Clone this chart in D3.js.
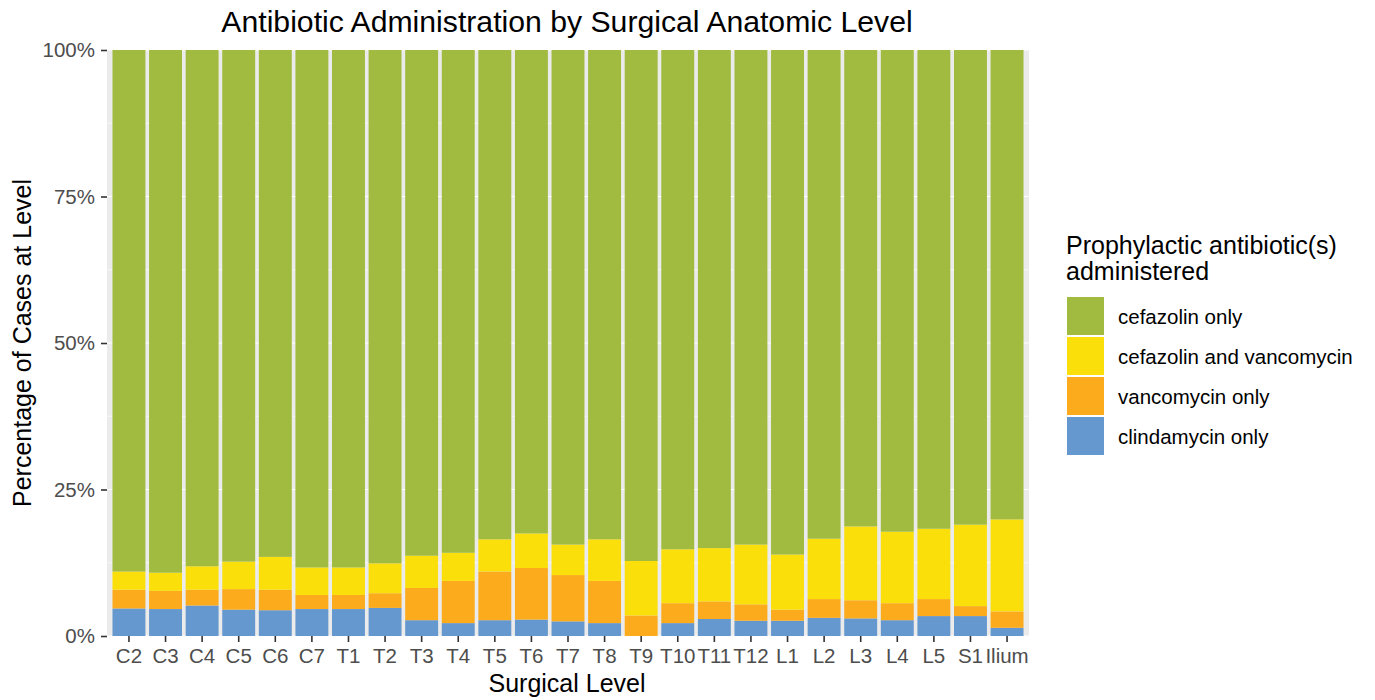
<!DOCTYPE html>
<html>
<head>
<meta charset="utf-8">
<script src="https://cdn.jsdelivr.net/npm/d3@7"></script>
<style>
  body { margin: 0; background: #fff; }
  svg { font-family: "Liberation Sans", Arial, sans-serif; }
</style>
</head>
<body>
<svg id="chart" width="1375" height="700"></svg>
<script>
// surgical levels along the x axis
const levels = ["C2","C3","C4","C5","C6","C7","T1","T2","T3","T4","T5","T6","T7","T8","T9",
  "T10","T11","T12","L1","L2","L3","L4","L5","S1","Ilium"];

// percent of cases at each level, per antibiotic group
const clindamycin = [4.7,4.6,5.2,4.5,4.4,4.6,4.6,4.8,2.7,2.2,2.7,2.8,2.5,2.2,0.0,2.2,2.9,2.6,2.6,3.1,3.0,2.7,3.4,3.4,1.4];
const vancomycin  = [3.2,3.1,2.7,3.5,3.5,2.4,2.4,2.5,5.5,7.2,8.3,8.8,7.9,7.2,3.5,3.4,3.0,2.8,1.9,3.2,3.1,2.9,2.9,1.7,2.8];
const cefVanc     = [3.1,3.1,4.0,4.7,5.6,4.7,4.7,5.1,5.5,4.8,5.5,5.9,5.2,7.1,9.3,9.2,9.1,10.2,9.4,10.3,12.6,12.2,12.0,13.9,15.7];
const groups = ["clindamycin only","vancomycin only","cefazolin and vancomycin","cefazolin only"];
const legendOrder = ["cefazolin only","cefazolin and vancomycin","vancomycin only","clindamycin only"];
const colors = {
  "cefazolin only": "#a0bb40",
  "cefazolin and vancomycin": "#fbdf0b",
  "vancomycin only": "#fbab1c",
  "clindamycin only": "#6598cf"
};
const yTicks = [0, 25, 50, 75, 100];

const rows = levels.map((lv, i) => ({
  level: lv,
  "clindamycin only": clindamycin[i],
  "vancomycin only": vancomycin[i],
  "cefazolin and vancomycin": cefVanc[i],
  "cefazolin only": 100 - clindamycin[i] - vancomycin[i] - cefVanc[i]
}));

const svg = d3.select("#chart");
const panel = {left: 107, right: 1029, top: 50, bottom: 636};

const x = d3.scaleBand().domain(levels).range([panel.left, panel.right])
  .paddingInner(0.1).paddingOuter(0.15);
const y = d3.scaleLinear().domain([0, 100]).range([panel.bottom, panel.top]);

// panel background + grid
svg.append("rect")
  .attr("x", panel.left).attr("y", panel.top)
  .attr("width", panel.right - panel.left).attr("height", panel.bottom - panel.top)
  .attr("fill", "#ebebeb");
svg.append("g").selectAll("line").data([12.5, 37.5, 62.5, 87.5]).join("line")
  .attr("x1", panel.left).attr("x2", panel.right)
  .attr("y1", d => y(d)).attr("y2", d => y(d))
  .attr("stroke", "#fff").attr("stroke-width", 0.6);
svg.append("g").selectAll("line").data(yTicks).join("line")
  .attr("x1", panel.left).attr("x2", panel.right)
  .attr("y1", d => y(d)).attr("y2", d => y(d))
  .attr("stroke", "#fff").attr("stroke-width", 1.2);

// stacked bars
const stack = d3.stack().keys(groups)(rows);
svg.append("g").selectAll("g").data(stack).join("g")
  .attr("fill", d => colors[d.key])
  .selectAll("rect").data(d => d).join("rect")
  .attr("x", d => x(d.data.level))
  .attr("width", x.bandwidth())
  .attr("y", d => y(d[1]))
  .attr("height", d => y(d[0]) - y(d[1]));

// axes
const yAxis = svg.append("g")
  .attr("transform", `translate(${panel.left},0)`)
  .call(d3.axisLeft(y).tickValues(yTicks).tickFormat(d => d + "%").tickSize(6).tickPadding(6));
const xAxis = svg.append("g")
  .attr("transform", `translate(0,${panel.bottom})`)
  .call(d3.axisBottom(x).tickSize(6).tickPadding(6));
[yAxis, xAxis].forEach(a => {
  a.select(".domain").remove();
  a.selectAll(".tick line").attr("stroke", "#333").attr("stroke-width", 1.6);
  a.selectAll(".tick text").attr("fill", "#4d4d4d").style("font-size", "20.5px")
    .style("font-family", "'Liberation Sans', Arial, sans-serif");
});

// titles
svg.append("text").attr("x", 567).attr("y", 32).attr("text-anchor", "middle")
  .style("font-size", "30.2px").attr("fill", "#000")
  .text("Antibiotic Administration by Surgical Anatomic Level");
svg.append("text").attr("x", 567).attr("y", 692).attr("text-anchor", "middle")
  .style("font-size", "25px").attr("fill", "#000").text("Surgical Level");
svg.append("text").attr("transform", `translate(31,${(panel.top + panel.bottom) / 2}) rotate(-90)`)
  .attr("text-anchor", "middle").style("font-size", "25px").attr("fill", "#000")
  .text("Percentage of Cases at Level");

// legend
const legend = svg.append("g").attr("transform", "translate(1066,0)");
legend.append("text").attr("x", 0).attr("y", 254).style("font-size", "25px")
  .text("Prophylactic antibiotic(s)");
legend.append("text").attr("x", 0).attr("y", 280).style("font-size", "25px")
  .text("administered");
const items = legend.selectAll("g.item").data(legendOrder).join("g")
  .attr("class", "item")
  .attr("transform", (d, i) => `translate(0,${297 + i * 40})`);
items.append("rect").attr("x", 1).attr("y", 0).attr("width", 37).attr("height", 38)
  .attr("fill", d => colors[d]);
items.append("text").attr("x", 52).attr("y", 27).style("font-size", "20.5px").attr("fill", "#000")
  .text(d => d);
</script>
</body>
</html>
